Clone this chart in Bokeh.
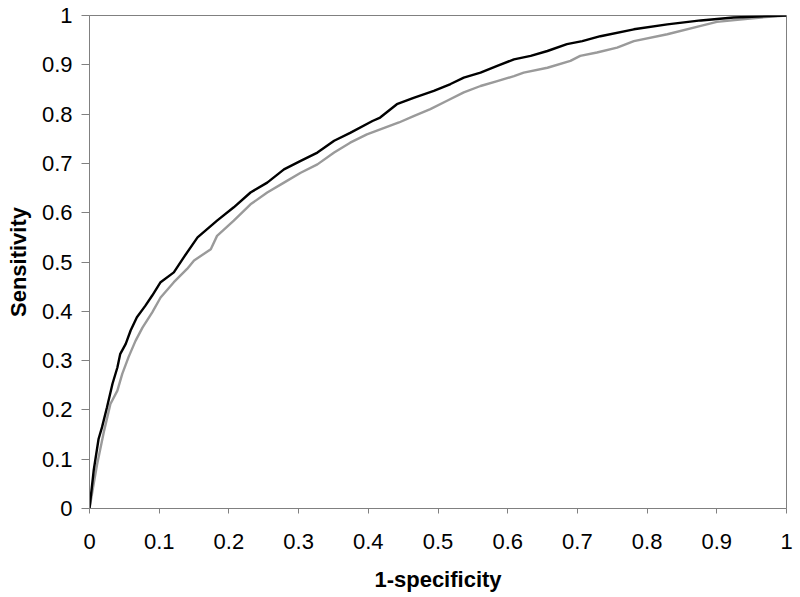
from bokeh.plotting import figure
from bokeh.models import Range1d, FixedTicker
from bokeh.embed import file_html
from bokeh.resources import INLINE

# Black ROC curve (1-specificity, sensitivity)
black_x = [0.0, 0.006, 0.013, 0.018, 0.025, 0.033, 0.040, 0.044, 0.052, 0.059, 0.068, 0.080,
           0.090, 0.102, 0.121, 0.135, 0.155, 0.183, 0.207, 0.231, 0.255, 0.279, 0.303,
           0.327, 0.351, 0.374, 0.406, 0.417, 0.441, 0.465, 0.494, 0.518, 0.537, 0.561,
           0.585, 0.609, 0.633, 0.657, 0.685, 0.707, 0.733, 0.781, 0.829, 0.877, 0.924, 1.0]
black_y = [0.0, 0.077, 0.141, 0.165, 0.205, 0.253, 0.286, 0.313, 0.334, 0.361, 0.388, 0.411,
           0.432, 0.459, 0.479, 0.509, 0.550, 0.584, 0.611, 0.641, 0.661, 0.688, 0.705,
           0.722, 0.746, 0.762, 0.786, 0.793, 0.820, 0.833, 0.847, 0.861, 0.874, 0.884,
           0.898, 0.911, 0.918, 0.928, 0.942, 0.948, 0.958, 0.972, 0.982, 0.990, 0.996, 1.0]

# Gray ROC curve
gray_x = [0.0, 0.006, 0.011, 0.021, 0.030, 0.040, 0.047, 0.056, 0.066, 0.076, 0.090, 0.102,
          0.121, 0.140, 0.150, 0.174, 0.183, 0.207, 0.231, 0.255, 0.279, 0.303, 0.327,
          0.351, 0.374, 0.398, 0.444, 0.465, 0.489, 0.513, 0.537, 0.561, 0.585, 0.609,
          0.623, 0.657, 0.690, 0.704, 0.728, 0.757, 0.781, 0.829, 0.877, 0.900, 0.948,
          0.980, 1.0]
gray_y = [0.0, 0.050, 0.090, 0.158, 0.212, 0.239, 0.273, 0.307, 0.340, 0.367, 0.398, 0.428,
          0.459, 0.486, 0.503, 0.526, 0.553, 0.584, 0.617, 0.641, 0.661, 0.681, 0.698,
          0.722, 0.742, 0.759, 0.783, 0.796, 0.810, 0.827, 0.844, 0.857, 0.867, 0.877,
          0.884, 0.894, 0.908, 0.918, 0.925, 0.935, 0.948, 0.962, 0.979, 0.987, 0.994,
          0.998, 1.0]

ticks = [0.0, 0.1, 0.2, 0.3, 0.4, 0.5, 0.6, 0.7, 0.8, 0.9, 1.0]
tick_labels = ["0", "0.1", "0.2", "0.3", "0.4", "0.5", "0.6", "0.7", "0.8", "0.9", "1"]

FONT = "Liberation Sans"
AXIS_GRAY = "#808080"

p = figure(width=800, height=597, output_backend="svg", toolbar_location=None,
           x_range=Range1d(0, 1), y_range=Range1d(0, 1),
           min_border_left=89, min_border_right=14, min_border_top=15, min_border_bottom=89)

p.line(gray_x, gray_y, line_color="#9a9a9a", line_width=2.4)
p.line(black_x, black_y, line_color="#000000", line_width=2.4)

p.grid.visible = False
p.outline_line_color = AXIS_GRAY
p.outline_line_width = 1
p.background_fill_color = "white"
p.border_fill_color = "white"

overrides = {t: l for t, l in zip(ticks, tick_labels)}

for ax in (p.xaxis[0], p.yaxis[0]):
    ax.ticker = FixedTicker(ticks=ticks)
    ax.major_label_overrides = overrides
    ax.minor_tick_line_color = None
    ax.axis_line_color = AXIS_GRAY
    ax.major_tick_line_color = AXIS_GRAY
    ax.major_tick_in = 0
    ax.major_label_text_font = FONT
    ax.major_label_text_font_size = "22px"
    ax.major_label_text_color = "black"
    ax.axis_label_text_font = FONT
    ax.axis_label_text_font_size = "22px"
    ax.axis_label_text_font_style = "bold"
    ax.axis_label_text_color = "black"

p.xaxis.axis_label = "1-specificity"
p.yaxis.axis_label = "Sensitivity"
p.xaxis.major_tick_out = 5
p.xaxis.major_label_standoff = 20
p.xaxis.axis_label_standoff = 15
p.yaxis.major_tick_out = 8
p.yaxis.major_label_standoff = 9
p.yaxis.axis_label_standoff = 8

open("out.html", "w").write(file_html(p, INLINE))
